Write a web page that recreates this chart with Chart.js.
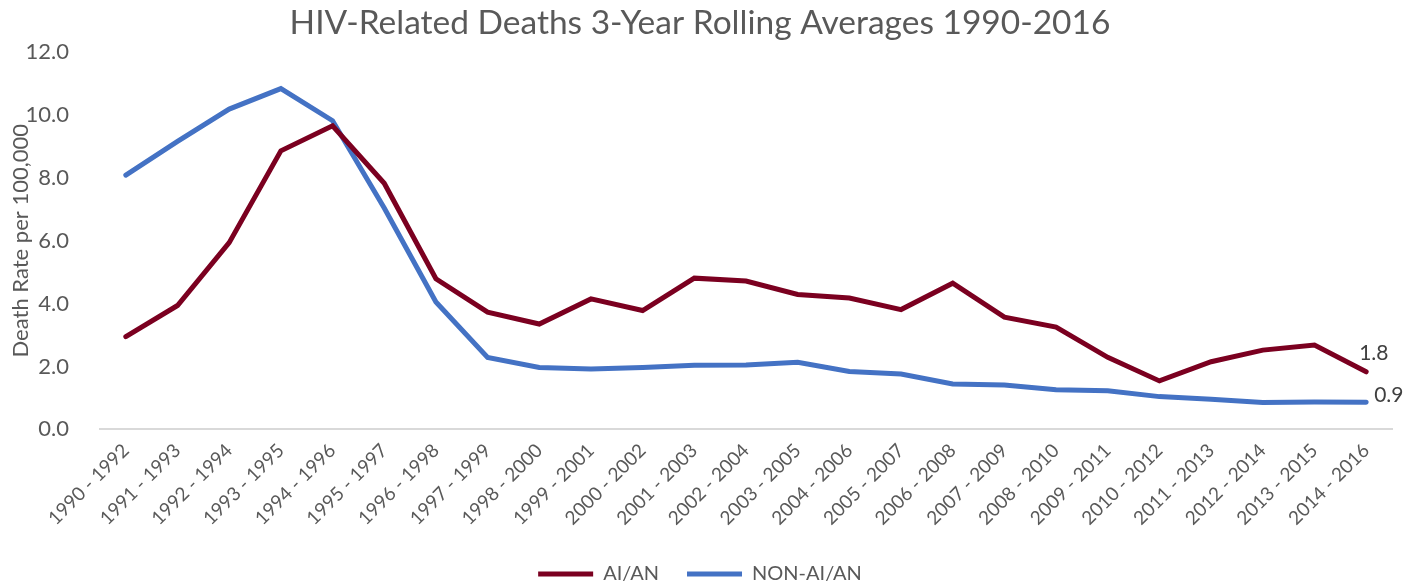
<!DOCTYPE html>
<html>
<head>
<meta charset="utf-8">
<script src="https://cdn.jsdelivr.net/npm/chart.js@4/dist/chart.umd.min.js"></script>
<style>
  html, body { margin: 0; padding: 0; background: #fff; }
  #wrap { width: 1418px; height: 588px; }
</style>
</head>
<body>
<div id="wrap"><canvas id="deaths"></canvas></div>
<script>
// 3-year windows
const periods = [
  '1990 - 1992', '1991 - 1993', '1992 - 1994', '1993 - 1995', '1994 - 1996',
  '1995 - 1997', '1996 - 1998', '1997 - 1999', '1998 - 2000', '1999 - 2001',
  '2000 - 2002', '2001 - 2003', '2002 - 2004', '2003 - 2005', '2004 - 2006',
  '2005 - 2007', '2006 - 2008', '2007 - 2009', '2008 - 2010', '2009 - 2011',
  '2010 - 2012', '2011 - 2013', '2012 - 2014', '2013 - 2015', '2014 - 2016'
];
const aian = [
  2.95, 3.94, 5.94, 8.86, 9.66, 7.83, 4.79, 3.73, 3.35, 4.15,
  3.78, 4.81, 4.72, 4.29, 4.18, 3.81, 4.65, 3.57, 3.25, 2.29,
  1.54, 2.15, 2.52, 2.68, 1.83
];
const nonAian = [
  8.09, 9.16, 10.19, 10.84, 9.82, 7.04, 4.05, 2.29, 1.97, 1.92,
  1.97, 2.04, 2.05, 2.13, 1.84, 1.76, 1.44, 1.41, 1.26, 1.23,
  1.04, 0.96, 0.85, 0.87, 0.86
];
const yTicks = [0, 2, 4, 6, 8, 10, 12];

const FONT = 'Lato, "Open Sans", sans-serif';

// value labels only on the last point of each line
const lastLabels = {
  id: 'lastLabels',
  afterDatasetsDraw(chart) {
    const ctx = chart.ctx;
    const offsets = [[-7, -19], [8, -7]];
    ctx.save();
    ctx.font = '21px ' + FONT;
    ctx.fillStyle = '#404040';
    ctx.textAlign = 'left';
    ctx.textBaseline = 'middle';
    chart.data.datasets.forEach((ds, i) => {
      const pts = chart.getDatasetMeta(i).data;
      const p = pts[pts.length - 1];
      const v = ds.data[ds.data.length - 1];
      ctx.fillText(v.toFixed(1), p.x + offsets[i][0], p.y + offsets[i][1]);
    });
    ctx.restore();
  }
};

var ctx = document.getElementById('deaths');
var chart = new Chart(ctx, {
  type: 'line',
  data: {
    labels: periods,
    datasets: [{
      label: 'AI/AN',
      data: aian,
      borderColor: '#7b0020',
      backgroundColor: '#7b0020',
      borderWidth: 5,
      pointRadius: 0,
      tension: 0,
      borderCapStyle: 'round'
    }, {
      label: 'NON-AI/AN',
      data: nonAian,
      borderColor: '#4472c4',
      backgroundColor: '#4472c4',
      borderWidth: 5,
      pointRadius: 0,
      tension: 0,
      borderCapStyle: 'round'
    }]
  },
  options: {
    responsive: true,
    maintainAspectRatio: false,
    animation: false,
    layout: { padding: { left: 8, right: 26, top: 0, bottom: -6 } },
    plugins: {
      title: {
        display: true,
        text: 'HIV-Related Deaths 3-Year Rolling Averages 1990-2016',
        color: '#595959',
        font: { family: FONT, size: 33.5, weight: 'normal', lineHeight: 1.2 },
        padding: { top: 3, bottom: 9 }
      },
      legend: {
        position: 'bottom',
        labels: {
          usePointStyle: true,
          pointStyle: 'line',
          pointStyleWidth: 55,
          color: '#595959',
          padding: 28,
          font: { family: FONT, size: 20 }
        }
      },
      tooltip: { enabled: false }
    },
    scales: {
      x: {
        offset: true,
        afterFit(scale) { scale.height = 106.7; },
        grid: { display: false },
        border: { display: true, color: '#d9d9d9', width: 2 },
        ticks: {
          color: '#595959',
          font: { family: FONT, size: 19 },
          minRotation: 45,
          maxRotation: 45,
          autoSkip: false,
          padding: 2
        }
      },
      y: {
        min: 0,
        max: 12,
        afterBuildTicks(scale) {
          scale.ticks = yTicks.map(v => ({ value: v }));
        },
        afterFit(scale) { scale.width = 92; },
        grid: { display: false },
        border: { display: false },
        title: {
          display: true,
          text: 'Death Rate per 100,000',
          color: '#595959',
          font: { family: FONT, size: 22 },
          padding: { top: 0, bottom: 4 }
        },
        ticks: {
          color: '#595959',
          font: { family: FONT, size: 22 },
          padding: 23,
          callback: v => Number(v).toFixed(1)
        }
      }
    }
  },
  plugins: [lastLabels]
});
</script>
</body>
</html>
